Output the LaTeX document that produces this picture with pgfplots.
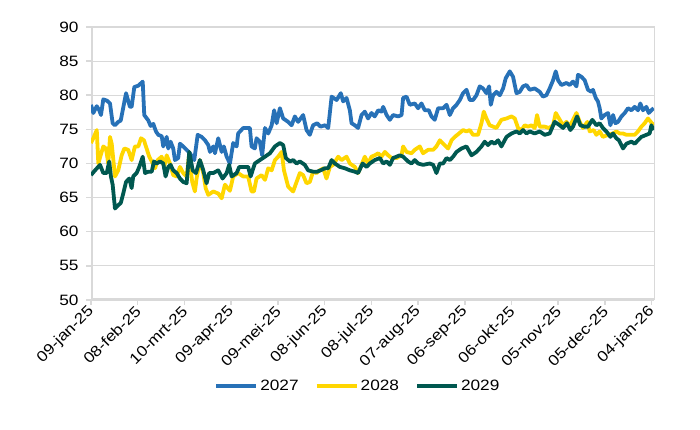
\documentclass[border=0pt]{standalone}
\usepackage{fontspec}
\setmainfont[FakeStretch=1.15]{Liberation Sans}
\usepackage{pgfplots}
\pgfplotsset{compat=1.18}

\definecolor{c2027}{RGB}{39,113,183}
\definecolor{c2028}{RGB}{255,214,0}
\definecolor{c2029}{RGB}{0,88,80}
\definecolor{gridgray}{RGB}{217,217,217}

\begin{document}
\begin{tikzpicture}
\path[use as bounding box] (0,0) rectangle (700pt,430pt);
\begin{axis}[
    at={(91pt,130pt)}, anchor=south west,
    scale only axis,
    width=563pt, height=273pt,
    xmin=0, xmax=361.5,
    ymin=50, ymax=90,
    xtick={0,30,...,360},
    xticklabels={09-jan-25,08-feb-25,10-mrt-25,09-apr-25,09-mei-25,08-jun-25,08-jul-25,07-aug-25,06-sep-25,06-okt-25,05-nov-25,05-dec-25,04-jan-26},
    ytick={50,55,...,90},
    xtick pos=left, ytick pos=left,
    tick align=outside,
    major tick length=5pt,
    tick style={gridgray, line width=1.5pt},
    axis line style={gridgray, line width=1pt},
    ymajorgrids,
    grid style={gridgray, line width=1.2pt},
    /pgf/number format/assume math mode=true,
    tick label style={font=\fontsize{15}{18}\selectfont, black},
    yticklabel style={xshift=-4pt},
    xticklabel style={rotate=45, anchor=east, yshift=-3pt, xshift=1pt},
    legend style={at={(0.474,-0.315)}, anchor=center, draw=none, fill=none,
        legend columns=3, font=\fontsize{15}{18}\selectfont,
        /tikz/every even column/.append style={column sep=14pt},
        inner sep=0pt},
    legend image code/.code={\draw[#1, line width=4pt] (0pt,0pt) -- (40pt,0pt);},
    every axis plot/.append style={line width=3.8pt, line join=round},
]
\draw[gridgray, line width=3.5pt] (rel axis cs:0,0) -- (rel axis cs:0,1);
\draw[gridgray, line width=3.5pt] (rel axis cs:0,0) -- (rel axis cs:1,0);

% 2027
\addplot[c2027] coordinates {
(0,78.6) (1.5,77.4) (3.7,78.4) (5.3,77.8) (6.4,77.1) (7.9,79.4) (10.3,79.2) (12.2,78.8)
(13.9,75.9) (15.4,75.6) (17.5,76.1) (19.1,76.3) (22.5,80.3) (25.0,78.3) (26.1,78.3)
(27.8,81.2) (30.4,81.4) (33.2,82.0) (34.2,77.1) (36.8,76.3) (38.3,75.5) (40.0,75.8)
(41.7,74.7) (43.2,74.2) (45.4,74.0) (46.4,72.5) (48.6,73.9) (49.6,72.2) (51.1,73.2)
(52.8,72.2) (53.9,70.5) (56.0,70.8) (57.1,72.9) (59.2,72.5) (61.4,72.0) (63.5,71.5)
(66.3,70.5) (68.5,74.2) (71.0,73.9) (73.2,73.4) (75.3,72.7) (76.4,71.7) (78.5,72.5)
(79.6,71.5) (81.7,73.7) (83.9,71.7) (85.3,72.5) (87.1,71.0) (89.2,70.0) (91.3,73.0)
(93.5,72.5) (94.5,74.4) (97.7,75.2) (102.0,75.2) (103.1,72.5) (105.2,72.2) (106.3,73.7)
(108.4,73.2) (109.9,71.2) (111.7,75.2) (113.8,74.4) (116.0,75.6) (117.6,77.8) (119.2,75.9)
(121.3,78.1) (123.4,76.6) (126.6,76.1) (128.8,75.6) (130.9,76.9) (133.0,76.1) (136.2,77.1)
(138.4,74.9) (140.5,74.2) (142.6,75.6) (145.2,75.9) (147.4,75.4) (150.2,75.6) (152.3,75.2)
(154.5,79.8) (157.7,79.3) (160.4,80.3) (161.9,79.1) (164.1,79.6) (166.2,77.8) (167.3,75.9)
(169.4,75.6) (171.5,75.2) (173.7,77.1) (175.8,77.6) (177.9,76.6) (180.1,77.4) (182.2,76.9)
(184.4,77.8) (186.5,77.6) (187.6,78.3) (189.8,77.1) (191.9,76.4) (194.0,77.1) (197.2,76.9)
(199.4,77.1) (200.4,79.6) (202.6,79.8) (204.7,78.6) (207.9,78.8) (210.0,78.1) (212.2,78.8)
(214.3,77.8) (216.9,77.8) (218.6,76.9) (220.7,76.4) (222.9,78.1) (226.1,78.1) (228.3,78.6)
(230.4,77.1) (232.5,78.1) (234.7,78.6) (236.8,79.3) (238.9,80.3) (241.1,80.8) (243.2,79.3)
(245.3,79.3) (247.5,80.0) (249.6,81.3) (251.7,81.0) (253.9,80.3) (255.6,81.3) (256.7,78.6)
(258.2,80.0) (260.3,80.5) (262.5,80.0) (264.6,81.0) (266.3,82.5) (268.9,83.5) (271.0,82.7)
(273.2,80.3) (275.3,80.5) (277.4,81.3) (279.6,81.5) (281.7,80.8) (284.9,81.0) (288.1,80.5)
(290.2,79.8) (292.4,80.0) (294.5,81.0) (296.7,82.2) (298.4,83.5) (299.9,82.2) (302.0,81.5)
(305.3,81.8) (307.4,81.5) (309.5,82.0) (311.7,81.3) (312.7,83.0) (314.9,82.7) (317.0,82.2)
(319.1,80.8) (321.3,80.5) (322.3,80.8) (324.1,79.6) (325.5,79.1) (326.6,78.1) (327.7,76.6)
(329.8,77.1) (332.0,77.4) (333.5,75.6) (335.2,77.1) (336.7,75.9) (338.4,76.1) (340.6,76.9)
(342.7,77.4) (344.8,78.1) (347.0,77.8) (349.1,78.3) (351.2,77.8) (352.7,78.8) (354.4,77.8)
(356.6,78.3) (358.1,77.4) (359.8,77.8) (361.3,78.1)
};
\addlegendentry{2027}

% 2028
\addplot[c2028] coordinates {
(0,73.0) (1.5,73.7) (3.7,74.9) (4.7,70.0) (6.2,71.2) (7.9,72.5) (9.6,72.2) (11.1,70.0)
(12.2,73.9) (13.3,72.9) (15.4,68.1) (17.5,69.0) (19.7,71.2) (21.4,72.2) (23.9,72.0)
(26.1,70.5) (28.2,72.5) (30.4,72.5) (32.1,73.7) (34.0,73.4) (35.7,72.2) (37.4,71.0)
(39.0,70.3) (41.1,69.3) (42.8,70.5) (45.4,71.0) (47.0,69.5) (48.6,71.2) (50.7,70.0)
(52.8,68.3) (55.0,68.1) (57.1,69.5) (59.2,68.6) (61.4,68.1) (62.9,71.0) (65.0,67.3)
(66.7,65.9) (67.8,67.8) (69.9,70.5) (72.1,68.6) (73.6,66.4) (75.3,65.4) (78.5,65.9)
(81.7,65.6) (83.9,64.9) (86.0,66.9) (89.2,66.0) (91.3,68.1) (94.5,68.6) (97.7,68.1)
(100.9,68.1) (103.1,65.9) (104.6,65.9) (106.3,67.8) (109.5,68.3) (111.7,67.6) (113.8,69.3)
(116.0,69.0) (118.1,70.5) (120.2,71.0) (122.4,71.7) (123.9,69.0) (126.6,66.6) (129.8,65.9)
(132.0,67.3) (134.1,68.6) (136.2,68.3) (138.4,67.1) (140.5,67.3) (142.6,68.8) (144.8,68.6)
(146.9,69.0) (149.1,69.3) (151.2,67.8) (153.4,69.5) (155.5,69.8) (158.7,71.0) (160.9,70.5)
(164.1,71.0) (166.2,70.0) (169.4,69.5) (171.5,68.6) (173.7,69.8) (175.8,71.0) (177.9,70.0)
(180.1,71.0) (182.2,71.2) (184.4,71.5) (186.5,71.0) (188.7,71.7) (190.8,71.2) (193.0,70.8)
(196.2,70.8) (199.4,71.2) (200.4,72.5) (202.6,71.7) (205.8,71.5) (207.9,72.0) (211.1,72.5)
(213.2,71.5) (216.4,72.0) (219.7,72.0) (221.8,72.5) (224.0,73.4) (226.1,72.9) (229.3,72.2)
(231.5,73.4) (233.6,73.9) (236.3,74.4) (238.9,74.9) (241.1,74.7) (243.2,74.9) (245.3,74.2)
(248.5,74.2) (250.7,75.9) (252.2,77.6) (253.9,76.6) (256.0,75.6) (258.2,75.4) (260.3,75.2)
(263.5,76.4) (266.8,76.6) (270.0,76.9) (272.1,76.6) (274.2,75.2) (276.4,74.9) (278.5,75.6)
(280.6,75.4) (282.8,75.6) (284.9,75.2) (286.4,77.1) (288.1,75.4) (291.3,75.4) (294.1,75.2)
(296.7,75.6) (298.4,77.4) (301.0,76.4) (303.1,75.6) (305.3,76.1) (307.4,75.4) (309.9,76.6)
(311.7,77.4) (313.8,76.1) (315.9,75.2) (318.7,76.1) (320.2,74.7) (322.8,74.9) (324.5,74.2)
(326.6,74.7) (328.7,73.9) (332.0,74.2) (335.2,74.4) (337.3,74.7) (339.5,74.4) (341.6,74.4)
(343.8,74.2) (347.0,74.2) (349.1,74.2) (351.2,74.7) (353.4,75.4) (355.5,75.9) (357.6,76.6)
(359.4,76.1) (361.3,75.6)
};
\addlegendentry{2028}

% 2029
\addplot[c2029] coordinates {
(0,68.3) (2.6,69.0) (5.8,69.8) (7.9,68.6) (10.1,68.6) (11.7,70.3) (12.8,68.1) (13.9,66.9)
(15.4,63.4) (17.5,63.9) (19.1,64.2) (20.7,65.6) (22.5,67.3) (24.6,67.8) (26.1,66.4)
(27.1,68.1) (29.3,68.6) (31.0,69.5) (33.2,71.0) (34.7,68.6) (36.8,68.8) (39.0,68.8)
(40.4,70.3) (42.2,70.0) (44.3,70.3) (46.4,70.0) (47.9,68.1) (49.6,69.5) (51.1,69.8)
(52.8,69.0) (55.0,68.6) (57.1,67.8) (59.2,67.3) (61.4,67.1) (63.1,71.7) (65.3,69.0)
(67.4,68.6) (69.9,70.5) (72.1,69.0) (74.2,67.1) (75.9,68.6) (78.5,68.6) (81.7,69.0)
(84.5,67.8) (87.1,68.6) (88.7,69.8) (90.3,68.1) (93.5,68.6) (95.2,69.5) (97.7,69.5)
(100.9,69.5) (102.5,68.1) (105.2,70.0) (108.4,70.5) (111.7,71.0) (114.9,71.5) (118.1,72.5)
(121.3,73.0) (123.4,72.7) (125.1,70.8) (127.7,70.3) (129.8,70.5) (132.0,70.0) (134.1,70.3)
(137.3,69.8) (139.4,69.0) (142.6,68.8) (145.2,68.8) (147.4,69.0) (150.2,69.3) (152.3,69.3)
(154.5,70.5) (156.6,70.0) (159.8,69.5) (163.0,69.3) (166.2,69.0) (169.4,68.8) (171.5,68.6)
(174.4,70.0) (176.9,69.5) (179.0,70.0) (182.2,70.5) (185.5,70.8) (187.6,70.0) (189.8,70.3)
(191.9,69.8) (194.0,70.8) (196.2,71.0) (198.3,71.2) (200.4,71.0) (203.6,70.3) (205.8,70.0)
(207.9,70.5) (210.0,70.0) (213.2,69.8) (217.5,70.0) (219.7,69.8) (221.8,68.6) (224.0,70.0)
(226.1,70.0) (228.3,70.8) (230.4,70.5) (232.5,71.0) (234.7,71.7) (237.9,72.2) (241.1,72.5)
(244.3,71.2) (247.5,71.7) (250.7,72.5) (252.8,73.2) (254.9,72.7) (257.1,73.2) (259.2,72.9)
(261.4,73.4) (263.5,72.5) (266.8,73.9) (270.0,74.4) (273.2,74.7) (275.3,74.4) (277.4,74.9)
(279.6,74.4) (281.7,74.7) (284.9,74.4) (288.1,74.7) (291.3,74.2) (294.5,74.4) (297.7,76.1)
(301.0,75.6) (303.1,75.2) (305.6,75.9) (307.8,74.9) (309.5,75.4) (312.1,76.9) (314.2,75.6)
(317.0,75.4) (319.1,75.4) (321.9,76.4) (324.5,75.6) (326.6,75.9) (328.7,75.2) (330.9,74.7)
(333.5,73.9) (335.2,74.4) (337.3,73.7) (339.0,73.4) (341.6,72.2) (343.8,72.9) (347.0,73.2)
(349.1,72.9) (351.2,73.4) (353.4,73.9) (356.6,74.2) (358.7,74.4) (359.8,75.6) (361.3,74.9)
};
\addlegendentry{2029}
\end{axis}
\end{tikzpicture}
\end{document}
